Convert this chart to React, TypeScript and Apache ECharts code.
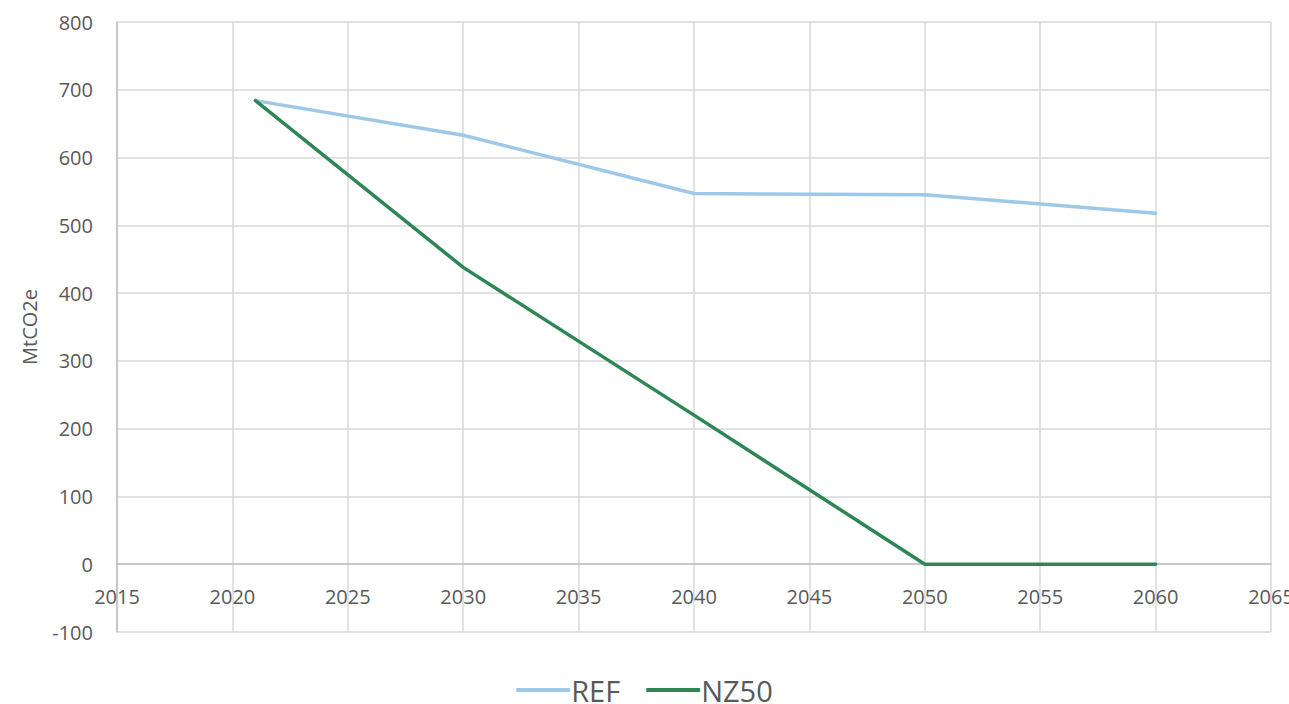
import React, { useEffect, useRef } from "react";
import * as echarts from "echarts";

const years = [2021, 2030, 2040, 2050, 2060];
const refValues = [684, 633, 547, 545, 518];
const nz50Values = [684, 438, 220, 0, 0];

export default function App() {
  const ref = useRef<HTMLDivElement>(null);
  useEffect(() => {
    document.body.style.margin = "0";
    const chart = echarts.init(ref.current!, null, { renderer: "svg" });
    const font = "Open Sans";
    const gridTop = 22;
    const gridBottom = 72;
    const gridHeight = 704 - gridTop - gridBottom;
    const yMin = -100;
    const yMax = 800;
    const zeroOffset = -((0 - yMin) / (yMax - yMin)) * gridHeight;
    chart.setOption({
      animation: false,
      backgroundColor: "#ffffff",
      textStyle: { fontFamily: font },
      grid: { left: 117, right: 18, top: gridTop, bottom: gridBottom, containLabel: false, outerBoundsMode: "none" },
      legend: {
        top: 670,
        left: "center",
        itemWidth: 54,
        itemHeight: 4,
        itemGap: 26,
        icon: "roundRect",
        textStyle: { fontSize: 29, lineHeight: 30, color: "#595959", fontFamily: font, padding: [0, 0, 0, -4] },
        data: ["REF", "NZ50"],
      },
      xAxis: {
        type: "value",
        min: 2015,
        max: 2065,
        interval: 5,
        offset: zeroOffset,
        axisLine: { onZero: false, lineStyle: { color: "#bfbfbf", width: 1.5 } },
        axisTick: { show: false },
        axisLabel: { color: "#595959", fontSize: 20, margin: 22, hideOverlap: false, formatter: (v: number) => String(v) },
        splitLine: { show: true, lineStyle: { color: "#d9d9d9", width: 1.5 } },
      },
      yAxis: {
        type: "value",
        min: yMin,
        max: yMax,
        interval: 100,
        name: "MtCO2e",
        nameLocation: "middle",
        nameGap: 78,
        nameTextStyle: { color: "#595959", fontSize: 20, fontFamily: font },
        axisLine: { show: true, lineStyle: { color: "#bfbfbf", width: 1.5 } },
        axisTick: { show: false },
        axisLabel: { color: "#595959", fontSize: 20, margin: 24 },
        splitLine: { show: true, lineStyle: { color: "#d9d9d9", width: 1.5 } },
      },
      series: [
        {
          name: "REF",
          type: "line",
          data: years.map((y, i) => [y, refValues[i]]),
          symbol: "none",
          lineStyle: { color: "#9dc8e8", width: 3.5, cap: "round" },
          itemStyle: { color: "#9dc8e8" },
        },
        {
          name: "NZ50",
          type: "line",
          data: years.map((y, i) => [y, nz50Values[i]]),
          symbol: "none",
          lineStyle: { color: "#2e8655", width: 3.5, cap: "round" },
          itemStyle: { color: "#2e8655" },
        },
      ],
    });
    return () => chart.dispose();
  }, []);
  return <div ref={ref} style={{ position: "fixed", left: 0, top: 0, width: 1289, height: 704 }} />;
}
